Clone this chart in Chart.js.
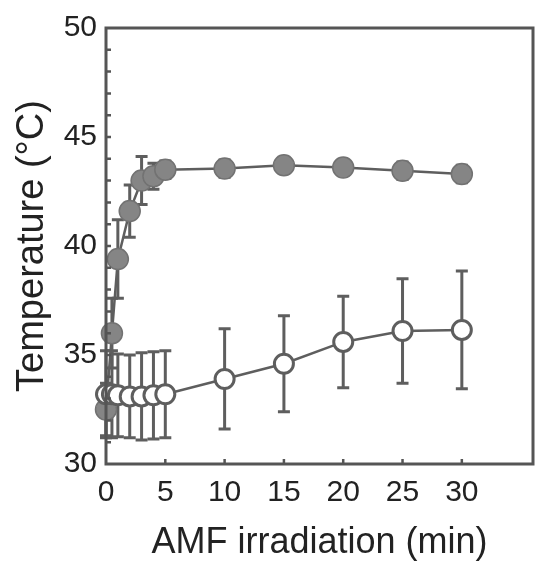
<!DOCTYPE html>
<html>
<head>
<meta charset="utf-8">
<script src="https://cdn.jsdelivr.net/npm/chart.js@4/dist/chart.umd.min.js"></script>
<style>
  html, body { margin: 0; padding: 0; background: #fff; overflow: hidden; }
  #tempChart { display: block; }
</style>
</head>
<body>
<canvas id="tempChart" width="537" height="563"></canvas>
<script>
// AMF irradiation time (min)
const times = [0, 0.5, 1, 2, 3, 4, 5, 10, 15, 20, 25, 30];
// filled circles
const heated = [32.5, 36.0, 39.4, 41.6, 43.0, 43.2, 43.5, 43.55, 43.7, 43.6, 43.45, 43.3];
const heatedErr = [1.2, 1.6, 1.8, 1.2, 1.1, 0.6, 0.4, 0.4, 0.3, 0.3, 0.4, 0.4];
// open circles
const control = [33.2, 33.2, 33.15, 33.1, 33.1, 33.15, 33.2, 33.9, 34.6, 35.6, 36.1, 36.15];
const controlErr = [2.0, 2.0, 1.9, 1.9, 2.0, 2.0, 2.0, 2.3, 2.2, 2.1, 2.4, 2.7];
const xTicks = [0, 5, 10, 15, 20, 25, 30];

const ink = '#5e5e5e';

function toPoints(xs, ys) {
    return xs.map((x, i) => ({ x: x, y: ys[i] }));
}

// error bars drawn under the markers
const errorBars = {
    id: 'errorBars',
    beforeDatasetsDraw(chart) {
        const ctx = chart.ctx;
        const xs = chart.scales.x, ys = chart.scales.y;
        ctx.save();
        ctx.strokeStyle = ink;
        ctx.lineWidth = 3;
        chart.data.datasets.forEach(ds => {
            ds.data.forEach((p, i) => {
                const e = ds.errors[i];
                const px = xs.getPixelForValue(p.x);
                const top = ys.getPixelForValue(p.y + e);
                const bot = ys.getPixelForValue(p.y - e);
                ctx.beginPath();
                ctx.moveTo(px, top); ctx.lineTo(px, bot);
                ctx.moveTo(px - 6, top); ctx.lineTo(px + 6, top);
                ctx.moveTo(px - 6, bot); ctx.lineTo(px + 6, bot);
                ctx.stroke();
            });
        });
        ctx.restore();
    }
};

// box frame and inward ticks
const frame = {
    id: 'frame',
    afterDraw(chart) {
        const ctx = chart.ctx;
        const a = chart.chartArea;
        const xs = chart.scales.x, ys = chart.scales.y;
        ctx.save();
        ctx.strokeStyle = '#555';
        ctx.lineWidth = 3;
        ctx.strokeRect(a.left, a.top, a.right - a.left, a.bottom - a.top);
        ctx.lineWidth = 2.5;
        ctx.beginPath();
        xTicks.forEach(v => {
            if (v === 0) return;
            const px = xs.getPixelForValue(v);
            ctx.moveTo(px, a.bottom); ctx.lineTo(px, a.bottom - 5);
        });
        for (let v = 31; v < 50; v++) {
            const py = ys.getPixelForValue(v);
            ctx.moveTo(a.left, py); ctx.lineTo(a.left + 5, py);
        }
        ctx.stroke();
        ctx.restore();
    }
};

const ctx = document.getElementById('tempChart').getContext('2d');
const tempChart = new Chart(ctx, {
    type: 'line',
    data: {
        datasets: [{
            label: 'Control',
            data: toPoints(times, control),
            errors: controlErr,
            borderColor: ink,
            borderWidth: 2.5,
            backgroundColor: '#fff',
            pointBackgroundColor: '#fff',
            pointBorderColor: ink,
            pointBorderWidth: 3,
            pointRadius: 9.5,
            tension: 0,
            clip: false
        }, {
            label: 'AMF',
            data: toPoints(times, heated),
            errors: heatedErr,
            borderColor: ink,
            borderWidth: 2.5,
            pointBackgroundColor: '#858585',
            pointBorderColor: '#727272',
            pointBorderWidth: 1.5,
            pointRadius: 10.5,
            tension: 0,
            clip: false
        }]
    },
    options: {
        responsive: false,
        animation: false,
        layout: {
            autoPadding: false,
            padding: { top: 28, right: 4, left: 10, bottom: 2 }
        },
        plugins: {
            legend: { display: false },
            tooltip: { enabled: false }
        },
        scales: {
            x: {
                type: 'linear',
                min: 0,
                max: 36,
                afterBuildTicks: function(scale) {
                    scale.ticks = xTicks.map(v => ({ value: v }));
                },
                afterFit: function(scale) {
                    scale.height = 97;
                    scale.paddingLeft = 0;
                    scale.paddingRight = 0;
                },
                grid: { display: false, drawTicks: false },
                border: { display: false },
                ticks: {
                    color: '#222',
                    padding: 11,
                    maxRotation: 0,
                    font: { family: 'Liberation Sans', size: 30 }
                },
                title: {
                    display: true,
                    text: 'AMF irradiation (min)',
                    color: '#222',
                    padding: { top: 0, bottom: 0 },
                    font: { family: 'Liberation Sans', size: 36, lineHeight: 1 }
                }
            },
            y: {
                min: 30,
                max: 50,
                afterFit: function(scale) {
                    scale.width = 96;
                },
                ticks: {
                    stepSize: 5,
                    color: '#222',
                    padding: 9,
                    font: { family: 'Liberation Sans', size: 30 }
                },
                grid: { display: false, drawTicks: false },
                border: { display: false },
                title: {
                    display: true,
                    text: 'Temperature (°C)',
                    color: '#222',
                    padding: { top: 0, bottom: 8 },
                    font: { family: 'Liberation Sans', size: 38 }
                }
            }
        }
    },
    plugins: [errorBars, frame]
});
</script>
</body>
</html>
